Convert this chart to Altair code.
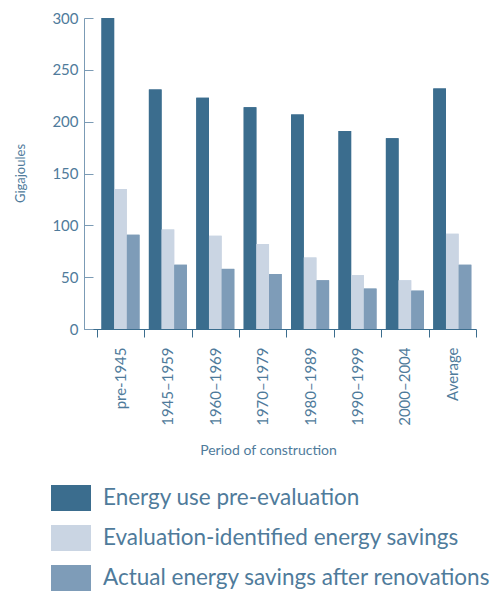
import altair as alt
import pandas as pd

periods = ["pre-1945", "1945–1959", "1960–1969", "1970–1979",
           "1980–1989", "1990–1999", "2000–2004", "Average"]
series = ["Energy use pre-evaluation",
          "Evaluation-identified energy savings",
          "Actual energy savings after renovations"]
energy_pre = [300, 231, 223, 214, 207, 191, 184, 232]
identified = [135, 96, 90, 82, 69, 52, 47, 92]
actual = [91, 62, 58, 53, 47, 39, 37, 62]
colors = ["#3b6d8e", "#cad5e3", "#7e9cb8"]
y_ticks = [0, 50, 100, 150, 200, 250, 300]

rows = []
for name, values in zip(series, [energy_pre, identified, actual]):
    for period, v in zip(periods, values):
        rows.append({"period": period, "series": name, "gj": v})
df = pd.DataFrame(rows)

text_color = "#4f7b9b"
axis_light = "#7b9bb5"
font = "Lato"

x_enc = alt.X(
    "period:N",
    sort=periods,
    scale=alt.Scale(paddingInner=0, paddingOuter=0.135, align=1),
    axis=alt.Axis(
        title="Period of construction",
        labelAngle=270,
        labelFontSize=15,
        labelPadding=10,
        tickSize=8,
        tickBand="extent",
        tickColor="#3b6d8e",
        domainColor="#3b6d8e",
        labelColor=text_color,
        titleColor=text_color,
        titleFontSize=14,
        titleFontWeight="normal",
        titleX=184,
        titleY=121,
        titleBaseline="middle",
        labelFont=font,
        titleFont=font,
    ),
)
x_off = alt.XOffset(
    "series:N",
    sort=series,
    scale=alt.Scale(paddingOuter=0.37, paddingInner=0),
)
y_scale = alt.Scale(domain=[0, 300], nice=False)
color_enc = alt.Color(
    "series:N",
    sort=series,
    scale=alt.Scale(domain=series, range=colors),
    legend=alt.Legend(
        title=None,
        orient="none",
        legendX=-33,
        legendY=460,
        symbolType="M-1,-0.65L1,-0.65L1,0.65L-1,0.65Z",
        symbolSize=1600,
        symbolStrokeWidth=0,
        symbolOpacity=1,
        labelFontSize=22.5,
        labelFont=font,
        labelColor=text_color,
        labelOffset=12,
        labelLimit=600,
        rowPadding=7,
        padding=0,
    ),
)

# bars with the labelled y axis (domain line, no ticks)
bars = alt.Chart(df).mark_bar().encode(
    x=x_enc,
    xOffset=x_off,
    y=alt.Y(
        "gj:Q",
        scale=y_scale,
        axis=alt.Axis(
            title="Gigajoules",
            orient="left",
            values=y_ticks,
            grid=False,
            ticks=False,
            labelPadding=6,
            labelFontSize=15,
            labelColor=text_color,
            domainColor=axis_light,
            titleColor=text_color,
            titleFontSize=13,
            titleFontWeight="normal",
            titleAngle=270,
            titleX=-64,
            titleY=155,
            titleAlign="center",
            titleBaseline="middle",
            labelFont=font,
            titleFont=font,
        ),
    ),
    color=color_enc,
)

# second copy carrying only the inward-pointing y ticks
inner_ticks = alt.Chart(df).mark_bar().encode(
    x=x_enc,
    xOffset=x_off,
    y=alt.Y(
        "gj:Q",
        scale=y_scale,
        axis=alt.Axis(
            title=None,
            orient="left",
            offset=-9,
            values=y_ticks,
            grid=False,
            domain=False,
            labels=False,
            ticks=True,
            tickSize=9,
            tickColor=axis_light,
        ),
    ),
    color=color_enc,
)

chart = alt.layer(bars, inner_ticks).resolve_axis(y="independent").properties(
    width=392,
    height=311,
    autosize=alt.AutoSizeParams(type="none"),
    padding={"left": 84, "top": 18, "right": 22, "bottom": 262},
).configure_view(stroke=None)

chart.save("out.html", embed_options={"renderer": "svg", "actions": False})
